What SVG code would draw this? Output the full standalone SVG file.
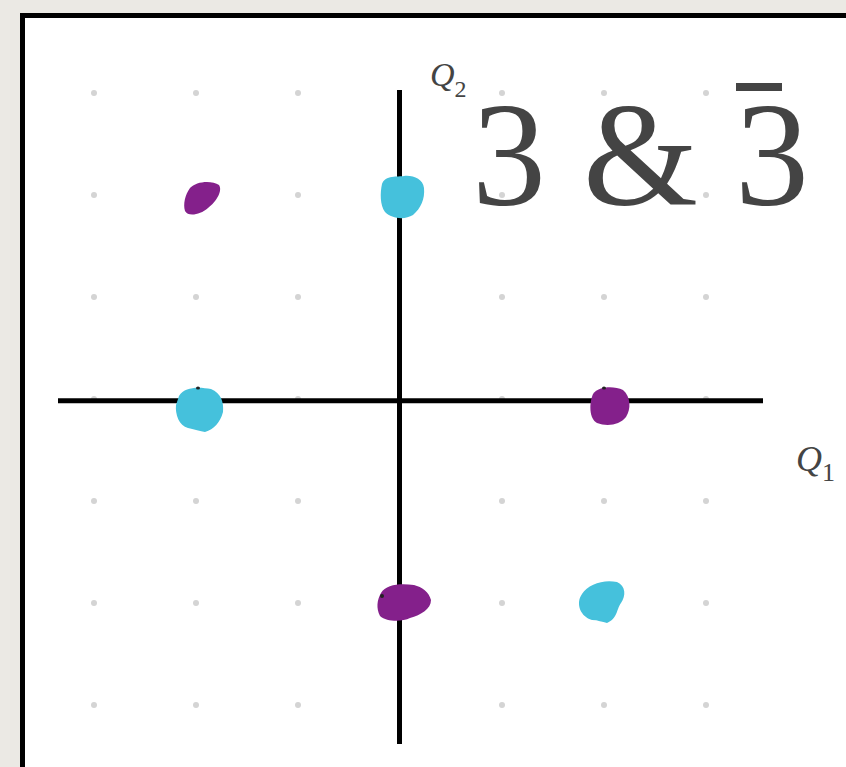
<svg xmlns="http://www.w3.org/2000/svg" width="846" height="767" viewBox="0 0 846 767">
<style>
.dot{fill:#d4d4d4}
.axis{stroke:#000;stroke-width:5;fill:none}
.lbl{fill:#444;font-family:"Liberation Serif","Times New Roman","DejaVu Serif",serif}
.purple{fill:#84208b}
.cyan{fill:#45c1dc}
</style>
<rect x="0" y="0" width="846" height="767" fill="#ebe9e4"/>
<rect x="22.5" y="15.5" width="840" height="780" fill="#fff" stroke="#000" stroke-width="5"/>
<g id="grid">
<g class="dot">
<circle cx="94" cy="93" r="3"/><circle cx="196" cy="93" r="3"/><circle cx="298" cy="93" r="3"/><circle cx="502" cy="93" r="3"/><circle cx="604" cy="93" r="3"/><circle cx="706" cy="93" r="3"/>
<circle cx="94" cy="195" r="3"/><circle cx="196" cy="195" r="3"/><circle cx="298" cy="195" r="3"/><circle cx="502" cy="195" r="3"/><circle cx="604" cy="195" r="3"/><circle cx="706" cy="195" r="3"/>
<circle cx="94" cy="297" r="3"/><circle cx="196" cy="297" r="3"/><circle cx="298" cy="297" r="3"/><circle cx="502" cy="297" r="3"/><circle cx="604" cy="297" r="3"/><circle cx="706" cy="297" r="3"/>
<circle cx="94" cy="399" r="3"/><circle cx="298" cy="399" r="3"/><circle cx="502" cy="399" r="3"/><circle cx="706" cy="399" r="3"/>
<circle cx="94" cy="501" r="3"/><circle cx="196" cy="501" r="3"/><circle cx="298" cy="501" r="3"/><circle cx="502" cy="501" r="3"/><circle cx="604" cy="501" r="3"/><circle cx="706" cy="501" r="3"/>
<circle cx="94" cy="603" r="3"/><circle cx="196" cy="603" r="3"/><circle cx="298" cy="603" r="3"/><circle cx="502" cy="603" r="3"/><circle cx="706" cy="603" r="3"/>
<circle cx="94" cy="705" r="3"/><circle cx="196" cy="705" r="3"/><circle cx="298" cy="705" r="3"/><circle cx="502" cy="705" r="3"/><circle cx="604" cy="705" r="3"/><circle cx="706" cy="705" r="3"/>
</g>
</g>
<g id="axes">
<line class="axis" x1="399.5" y1="90" x2="399.5" y2="744"/>
<line class="axis" x1="58" y1="400.7" x2="763" y2="400.7"/>
</g>
<g id="title">
<text class="lbl" x="472" y="205" font-size="148">3 &amp; 3</text>
<rect x="736" y="83" width="46" height="8" fill="#444"/>
</g>
<g id="q2">
<text class="lbl" x="430" y="86" font-size="34" font-style="italic">Q<tspan font-size="24" font-style="normal" dy="11">2</tspan></text>
</g>
<g id="q1">
<text class="lbl" x="796" y="471" font-size="36" font-style="italic">Q<tspan font-size="26" font-style="normal" dy="10">1</tspan></text>
</g>
<g id="weights">
<path class="purple" d="M190,188 C196,181 212,180 219,185 C223,191 216,202 208,208 C200,215 188,217 185,211 C183,204 185,195 190,188 Z"/>
<path class="cyan" d="M382,184 C385,175 398,177 404,176 C413,175 423,179 424,188 C425,199 421,208 413,215 C405,220 392,219 385,212 C380,205 380,193 382,184 Z"/>
<path class="cyan" d="M179,396 C185,386 200,387 211,389 C221,393 224,402 223,412 C220,423 214,429 205,432 C198,431 194,429 188,428 C179,426 175,414 176,405 Z"/>
<path class="purple" d="M593,394 C599,386 614,386 623,390 C631,397 631,409 626,417 C620,425 607,427 597,423 C589,419 589,403 593,394 Z"/>
<path class="purple" d="M381,593 C386,584 401,583 414,585 C422,587 429,592 431,600 C431,609 421,615 410,618 C402,622 387,622 380,616 C376,608 377,600 381,593 Z"/>
<path class="cyan" d="M582,594 C588,584 604,579 617,582 C626,586 626,596 621,603 C616,610 618,618 607,623 C602,622 598,620 592,620 C581,617 575,604 582,594 Z"/>
<ellipse cx="198" cy="388" rx="2" ry="1.5" fill="#222"/>
<ellipse cx="604" cy="388" rx="2" ry="1.5" fill="#222"/>
<ellipse cx="382" cy="596" rx="2" ry="2" fill="#222"/>
</g>
</svg>
